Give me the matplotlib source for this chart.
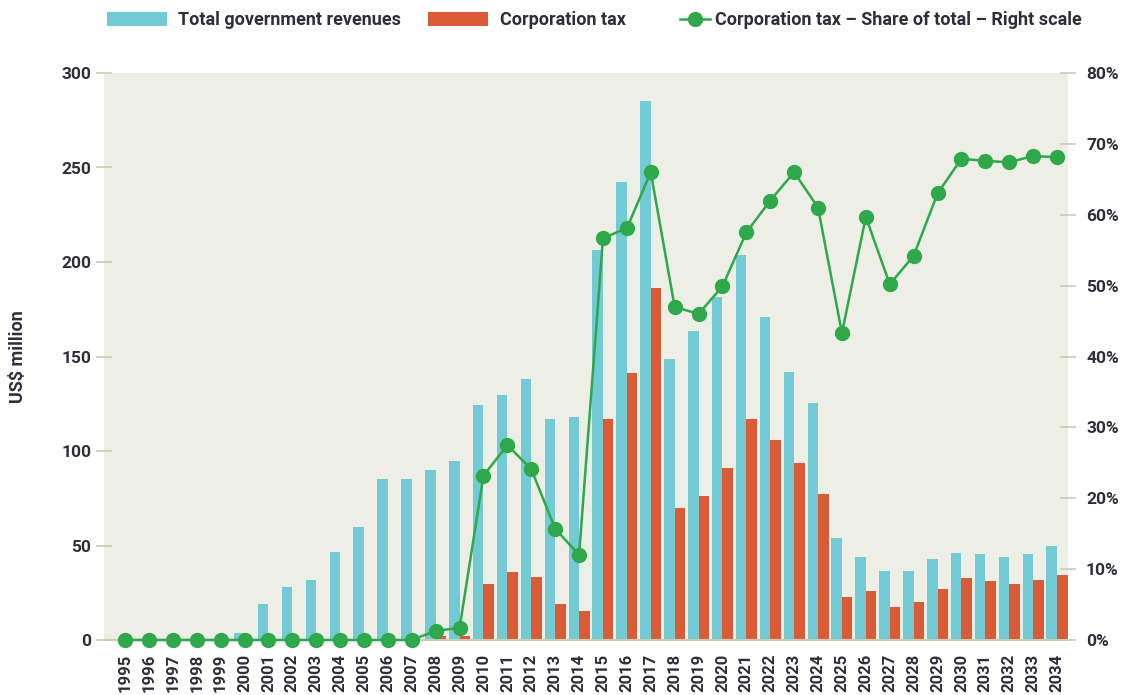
import matplotlib
matplotlib.use("Agg")
import matplotlib.pyplot as plt
import numpy as np

plt.rcParams['font.family'] = ['Roboto', 'DejaVu Sans']
plt.rcParams['font.weight'] = 'bold'

years = list(range(1995, 2035))
total_revenues = [0, 0, 0, 0, 0, 3.5, 19, 28, 32, 46.5, 60, 85, 85, 90, 94.5,
                  124.5, 129.5, 138, 117, 118, 206.5, 242.5, 285, 148.5, 163.5,
                  181.5, 203.5, 171, 142, 125.5, 54, 44, 36.5, 36.5, 43,
                  46, 45.5, 44, 45.5, 49.5]
corporation_tax = [0, 0, 0, 0, 0, 0, 0, 0, 0, 0, 0, 0, 0, 2, 2,
                   29.5, 36, 33.5, 19, 15.5, 117, 141.5, 186.5, 70, 76,
                   91, 117, 106, 93.5, 77.5, 22.5, 26, 17.5, 20, 27,
                   33, 31, 29.5, 32, 34.5]
share_pct = [0, 0, 0, 0, 0, 0, 0, 0, 0, 0, 0, 0, 0, 1.3, 1.7,
             23.2, 27.5, 24.1, 15.7, 12, 56.7, 58.1, 66, 47, 46,
             49.9, 57.5, 62, 66, 61, 43.3, 59.7, 50.2, 54.2, 63,
             67.9, 67.6, 67.4, 68.3, 68.1]

cyan = '#72CBD4'
orange = '#DC5B37'
green = '#2EA84A'
bg = '#EDEEE5'
tickc = '#C9CDB2'
textc = '#2E2E3A'

x = np.array(years)
width = 0.44

fig = plt.figure(figsize=(11.26, 6.95), dpi=100)
ax = fig.add_axes([104/1126, 1 - 640/695, 964/1126, 567/695])
ax.set_facecolor(bg)

b1 = ax.bar(x - width/2, total_revenues, width, color=cyan, label='Total government revenues')
b2 = ax.bar(x + width/2, corporation_tax, width, color=orange, label='Corporation tax')

ax.set_xlim(1994.12, 2034.46)
ax.set_ylim(0, 300)
ax.set_yticks(range(0, 301, 50))
ax.set_xticks(years)
ax.set_xticklabels([str(y) for y in years], rotation=90, fontsize=12,
                   fontweight='bold', color=textc)
ax.tick_params(axis='x', length=0, pad=10)
ax.tick_params(axis='y', direction='inout', length=12, width=1.2, color=tickc,
               labelsize=12.5, labelcolor=textc, pad=3)
for s in ['top', 'left', 'right']:
    ax.spines[s].set_visible(False)
ax.spines['bottom'].set_color(tickc)
ax.spines['bottom'].set_linewidth(1.5)
ax.set_ylabel('US$ million', fontsize=13, fontweight='bold', color=textc)
ax.yaxis.set_label_coords(-0.08, 0.5)

ax2 = ax.twinx()
line, = ax2.plot(x, share_pct, color=green, linewidth=1.8, marker='o',
                 markersize=10, clip_on=False, zorder=5,
                 label='Corporation tax \u2013 Share of total \u2013 Right scale')
ax2.set_ylim(0, 80)
ax2.set_yticks(range(0, 81, 10))
ax2.set_yticklabels([f'{v}%' for v in range(0, 81, 10)])
ax2.tick_params(axis='y', direction='inout', length=12, width=1.2, color=tickc,
                labelsize=12.5, labelcolor=textc, pad=7)
for s in ['top', 'left', 'right', 'bottom']:
    ax2.spines[s].set_visible(False)

leg1 = fig.legend(handles=[b1, b2], loc='center left',
                  bbox_to_anchor=(107/1126, 1 - 20/695), ncol=2, frameon=False,
                  handlelength=3.3, handleheight=0.85, handletextpad=0.65,
                  columnspacing=1.5, borderpad=0, borderaxespad=0,
                  prop={'size': 13, 'weight': 'bold'})
for t in leg1.get_texts():
    t.set_color(textc)
leg2 = fig.legend(handles=[line], loc='center left',
                  bbox_to_anchor=(680/1126, 1 - 20/695), frameon=False,
                  handlelength=1.65, handletextpad=0.3, borderpad=0,
                  borderaxespad=0, prop={'size': 13, 'weight': 'bold'})
for t in leg2.get_texts():
    t.set_color(textc)

fig.savefig('out.png', dpi=100)
